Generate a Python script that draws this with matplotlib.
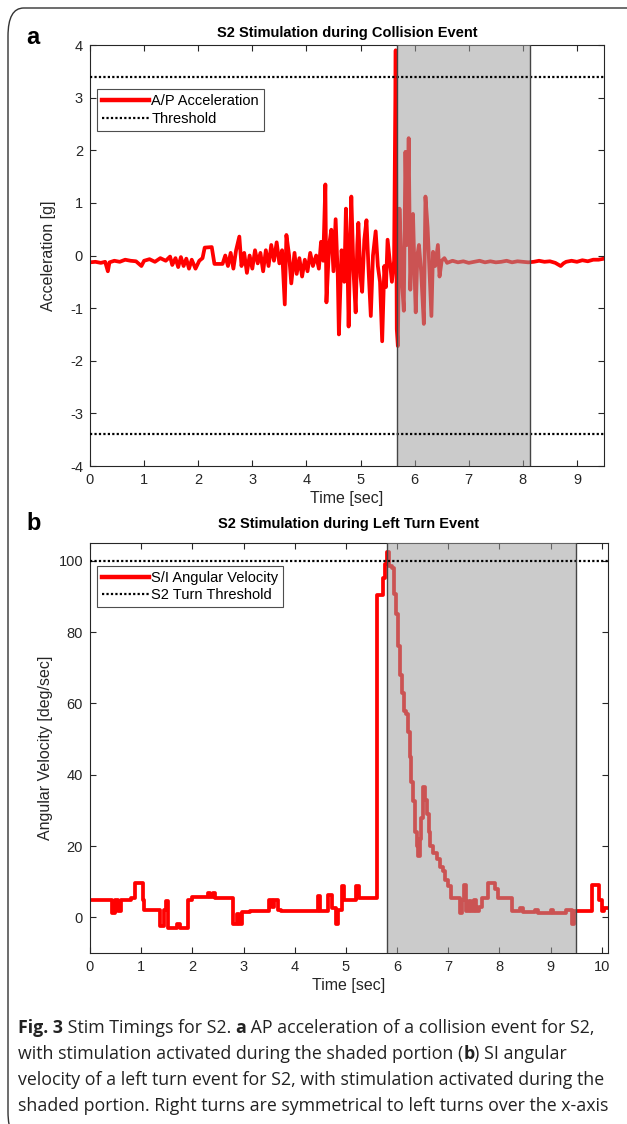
import numpy as np
import matplotlib.pyplot as plt
from matplotlib.patches import FancyBboxPatch
from matplotlib.lines import Line2D

# panel a: A/P acceleration [g]
acc_t = [0.00, 0.10, 0.20, 0.28, 0.33, 0.36, 0.45, 0.55, 0.65, 0.75, 0.85, 0.95, 1.00, 1.10, 1.20,
         1.30, 1.40, 1.48, 1.52, 1.58, 1.63, 1.68, 1.73, 1.78, 1.83, 1.88, 1.95, 2.02, 2.08, 2.12,
         2.25, 2.30, 2.45, 2.50, 2.55, 2.60, 2.65, 2.70, 2.76, 2.80, 2.85, 2.90, 2.95, 3.00, 3.05,
         3.10, 3.15, 3.20, 3.25, 3.30, 3.35, 3.40, 3.45, 3.50, 3.55, 3.60, 3.63, 3.68, 3.72, 3.78,
         3.82, 3.87, 3.92, 3.97, 4.02, 4.07, 4.12, 4.18, 4.23, 4.27, 4.31, 4.35, 4.37, 4.42, 4.46,
         4.50, 4.54, 4.58, 4.60, 4.65, 4.70, 4.73, 4.76, 4.78, 4.81, 4.83, 4.87, 4.91, 4.94, 4.96,
         5.00, 5.03, 5.07, 5.11, 5.15, 5.19, 5.23, 5.28, 5.32, 5.36, 5.40, 5.44, 5.47, 5.50, 5.54,
         5.58, 5.62, 5.65, 5.67, 5.69, 5.72, 5.76, 5.80, 5.83, 5.86, 5.89, 5.92, 5.95, 5.97, 6.00,
         6.02, 6.05, 6.08, 6.12, 6.17, 6.20, 6.24, 6.27, 6.31, 6.34, 6.38, 6.43, 6.46, 6.50, 6.55,
         6.60, 6.70, 6.80, 6.90, 7.00, 7.10, 7.20, 7.30, 7.40, 7.50, 7.60, 7.70, 7.80, 7.90, 8.00,
         8.10, 8.20, 8.30, 8.40, 8.50, 8.60, 8.70, 8.75, 8.80, 8.90, 9.00, 9.10, 9.20, 9.30, 9.40, 9.50]
acc_v = [-0.13, -0.12, -0.14, -0.12, -0.30, -0.13, -0.10, -0.12, -0.08, -0.10, -0.11, -0.20, -0.10, -0.07, -0.12,
         -0.05, -0.10, -0.02, -0.18, -0.05, -0.22, -0.03, -0.20, -0.06, -0.25, -0.08, -0.25, -0.10, -0.05, 0.15,
         0.16, -0.16, -0.16, 0.00, -0.20, 0.05, -0.25, 0.10, 0.36, -0.20, 0.05, -0.33, 0.00, -0.25, 0.10,
         -0.15, 0.05, -0.30, 0.10, -0.20, 0.20, -0.10, 0.25, -0.15, 0.10, -0.93, 0.39, 0.00, -0.53, 0.05,
         -0.35, -0.05, -0.40, -0.08, -0.30, 0.05, -0.20, 0.00, -0.25, 0.26, -0.10, 1.35, -0.89, 0.20, 0.49,
         -0.30, 0.69, -0.40, -1.50, 0.10, -0.50, 0.89, -0.20, -1.35, 0.30, 1.12, -0.30, -1.08, 0.20, 0.62,
         -0.40, -0.69, 0.30, 0.67, -0.30, -1.15, 0.00, 0.46, -0.20, -0.50, -1.63, -0.20, -0.60, 0.30, -0.10,
         -0.50, -0.10, 3.90, -1.40, -1.72, 0.89, -0.40, -1.05, 1.97, 0.20, 2.23, -0.65, 0.30, 0.79, -0.40,
         -1.08, 0.00, 0.20, -0.30, -1.30, 1.12, 0.53, -0.20, -1.15, 0.07, -0.20, 0.20, -0.40, -0.10, -0.05,
         -0.14, -0.10, -0.13, -0.11, -0.14, -0.12, -0.10, -0.13, -0.11, -0.13, -0.12, -0.10, -0.13, -0.11, -0.12,
         -0.13, -0.12, -0.10, -0.12, -0.11, -0.14, -0.20, -0.15, -0.12, -0.10, -0.12, -0.09, -0.11, -0.08, -0.08, -0.06]
acc_thr = 3.4
acc_shade = (5.67, 8.13)

# panel b: S/I angular velocity [deg/sec]
vel_t = [0.00, 0.43, 0.49, 0.55, 0.60, 0.80, 0.88, 1.03, 1.06, 1.20, 1.37, 1.44, 1.48, 1.53, 1.70,
         1.76, 1.92, 2.00, 2.30, 2.35, 2.40, 2.45, 2.80, 2.88, 2.92, 2.96, 3.13, 3.50, 3.55, 3.60,
         3.68, 3.74, 4.45, 4.50, 4.65, 4.72, 4.80, 4.84, 4.92, 4.97, 5.20, 5.26, 5.60, 5.72, 5.76,
         5.80, 5.84, 5.90, 5.94, 5.98, 6.02, 6.06, 6.10, 6.14, 6.18, 6.22, 6.25, 6.28, 6.31, 6.35,
         6.38, 6.41, 6.44, 6.47, 6.51, 6.54, 6.58, 6.62, 6.65, 6.70, 6.78, 6.84, 6.89, 6.94, 6.99,
         7.05, 7.22, 7.27, 7.30, 7.34, 7.40, 7.44, 7.50, 7.54, 7.60, 7.65, 7.77, 7.92, 7.97, 8.24,
         8.40, 8.45, 8.70, 8.75, 9.00, 9.05, 9.30, 9.42, 9.46, 9.80, 9.95, 10.00, 10.05, 10.12]
vel_v = [5.0, 1.2, 5.0, 1.7, 5.0, 5.5, 9.7, 5.0, 2.0, 2.2, -2.5, 2.0, 4.5, -3.0, -2.0,
         -3.0, 5.0, 5.6, 6.9, 5.6, 6.9, 5.5, -2.0, 1.0, -2.0, 1.5, 1.9, 5.0, 3.0, 5.0,
         2.0, 1.7, 5.9, 1.7, 6.4, 2.5, -2.0, 2.0, 8.7, 5.0, 8.7, 5.5, 90.4, 95.3, 99.0,
         102.6, 98.6, 98.0, 90.6, 85.0, 76.0, 68.0, 62.8, 58.0, 57.0, 52.0, 45.0, 38.0, 32.7, 24.0,
         20.0, 17.2, 22.0, 28.0, 36.5, 33.0, 29.0, 24.0, 20.0, 18.0, 16.3, 14.0, 13.0, 10.5, 8.7,
         5.5, 1.2, 5.0, 9.2, 1.7, 4.5, 1.7, 5.0, 1.7, 3.0, 5.5, 9.7, 8.0, 5.5, 1.7,
         2.5, 1.5, 2.2, 1.3, 2.0, 1.2, 2.0, -2.0, 1.7, 9.2, 5.0, 1.7, 2.5, 2.5]
vel_thr = 100
vel_shade = (5.8, 9.5)

# caption, as (text, bold) pieces for each line
caption = [
    [("Fig. 3", True), (" Stim Timings for S2. ", False), ("a", True),
     (" AP acceleration of a collision event for S2,", False)],
    [("with stimulation activated during the shaded portion (", False), ("b", True), (") SI angular", False)],
    [("velocity of a left turn event for S2, with stimulation activated during the", False)],
    [("shaded portion. Right turns are symmetrical to left turns over the x-axis", False)],
]

W, H = 627, 1124
fig = plt.figure(figsize=(W / 100, H / 100), dpi=100)
plt.rcParams['font.family'] = ['Liberation Sans', 'DejaVu Sans']
plt.rcParams['axes.unicode_minus'] = False

# rounded frame round the whole figure
frame = FancyBboxPatch((8 / W, 1 - 1140 / H), 660 / W, 1132 / H, transform=fig.transFigure,
                       boxstyle="round,pad=0,rounding_size=0.025", fc='none', ec='#333333', lw=1.0)
fig.patches.append(frame)

axis_col = '#262626'
shade_fc = (0.62, 0.62, 0.62)


def style_axes(ax, xticks, yticks):
    ax.set_xticks(xticks)
    ax.set_yticks(yticks)
    ax.tick_params(direction='in', top=True, right=True, length=4, width=0.8,
                   colors=axis_col, labelsize=10.5, pad=5)
    for s in ax.spines.values():
        s.set_color(axis_col)
        s.set_linewidth(0.8)


def draw_panel(ax, t, v, thr, shade, xlim, ylim, steps, labels, both_thr, leg_y):
    ax.plot(t, v, color='red', lw=2.7, drawstyle='steps-post' if steps else 'default', zorder=2)
    ax.axhline(thr, color='black', ls=(0, (1, 1)), lw=1.6, zorder=4)
    if both_thr:
        ax.axhline(-thr, color='black', ls=(0, (1, 1)), lw=1.6, zorder=4)
    ax.axvspan(shade[0], shade[1], facecolor=shade_fc, alpha=0.53, edgecolor='none', zorder=3)
    ax.axvline(shade[0], color='#444444', lw=1.0, zorder=5)
    ax.axvline(shade[1], color='#444444', lw=1.0, zorder=5)
    ax.set_xlim(*xlim)
    ax.set_ylim(*ylim)
    handles = [Line2D([], [], color='red', lw=3.2),
               Line2D([], [], color='black', ls=(0, (1, 1)), lw=1.6)]
    leg = ax.legend(handles, labels, loc='upper left', bbox_to_anchor=(0.014, leg_y),
                    fontsize=10.5, frameon=True, fancybox=False, edgecolor='#222222',
                    handlelength=3.2, handletextpad=0.15, borderpad=0.35, labelspacing=0.25,
                    borderaxespad=0)
    leg.get_frame().set_linewidth(0.8)


# panel a
ax1 = fig.add_axes([90 / W, 1 - 466 / H, 514 / W, 421 / H])
draw_panel(ax1, acc_t, acc_v, acc_thr, acc_shade, (0, 9.5), (-4, 4), False,
           ['A/P Acceleration', 'Threshold'], True, 0.895)
style_axes(ax1, range(0, 10), range(-4, 5))
ax1.set_title('S2 Stimulation during Collision Event', fontsize=10.5, fontweight='bold', pad=6)
ax1.set_xlabel('Time [sec]', fontsize=11.5, color=axis_col, labelpad=3)
ax1.set_ylabel('Acceleration [g]', fontsize=11.5, color=axis_col, labelpad=10)

# panel b
ax2 = fig.add_axes([90 / W, 1 - 953 / H, 518 / W, 410 / H])
draw_panel(ax2, vel_t, vel_v, vel_thr, vel_shade, (0, 10.12), (-10, 105), True,
           ['S/I Angular Velocity', 'S2 Turn Threshold'], False, 0.945)
style_axes(ax2, range(0, 11), range(0, 101, 20))
ax2.set_title('S2 Stimulation during Left Turn Event', fontsize=10.5, fontweight='bold', pad=11)
ax2.set_xlabel('Time [sec]', fontsize=11.5, color=axis_col, labelpad=3)
ax2.set_ylabel('Angular Velocity [deg/sec]', fontsize=11.5, color=axis_col, labelpad=4)

fig.text(26 / W, 1 - 37 / H, 'a', fontsize=17, fontweight='bold', va='center')
fig.text(26 / W, 1 - 523 / H, 'b', fontsize=17, fontweight='bold', va='center')

# caption text, piece by piece so bold words sit inline
cap_font = ['Open Sans', 'DejaVu Sans']
cap_size = 12.8
cap_y = [1033, 1059, 1085, 1111]
renderer = fig.canvas.get_renderer()
for line, y in zip(caption, cap_y):
    x = 18
    for piece, bold in line:
        txt = fig.text(x / W, 1 - y / H, piece, fontsize=cap_size, family=cap_font,
                       fontweight='bold' if bold else 'normal', va='baseline', color='#222222')
        x += txt.get_window_extent(renderer).width

fig.savefig('out.png', dpi=100)
